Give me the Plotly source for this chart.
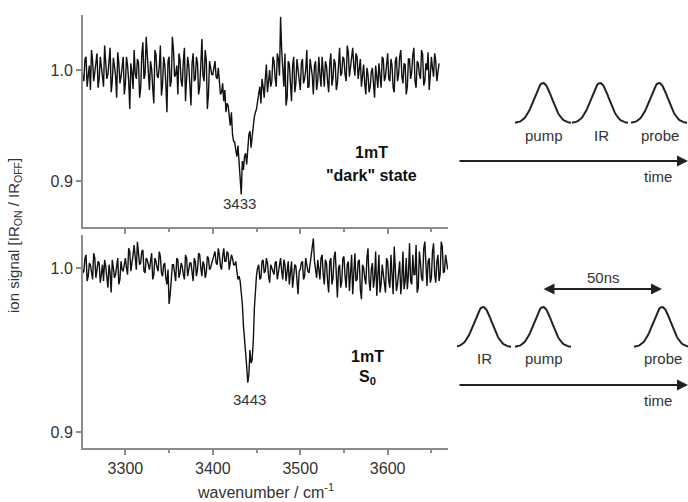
import numpy as np
import plotly.graph_objects as go

# ---------------- data ----------------
# samples at 3250, 3252.5, ... (main) and 3251.25, 3253.75, ... (mid)
wn_top = np.arange(3250.0, 3660.0, 2.5)          # 164 samples
sig_top = [
    1.005, 0.990, 1.012, 0.995, 0.982, 1.008, 0.998, 1.015, 0.992, 1.003,
    0.985, 1.010, 0.996, 1.020, 0.990, 1.002, 0.975, 1.006, 0.994, 1.012,
    0.988, 1.004, 0.965, 0.998, 1.018, 0.992, 1.007, 0.984, 1.025, 0.996,
    1.010, 0.982, 1.001, 0.970, 1.014, 0.993, 1.022, 0.987, 1.005, 0.962,
    1.012, 0.990, 1.018, 0.996, 0.978, 1.009, 0.985, 1.020, 0.995, 1.004,
    0.968, 1.015, 0.992, 1.006, 0.985, 1.028, 0.990, 1.010, 0.978, 1.002,
    0.996, 1.008, 0.992, 0.986, 0.980, 0.972, 0.962, 0.968, 0.950, 0.942,
    0.935, 0.922, 0.915, 0.888, 0.910, 0.925, 0.935, 0.945, 0.940, 0.958,
    0.965, 0.978, 0.970, 0.985, 0.992, 0.980, 1.000, 0.990, 1.008, 0.985,
    1.010, 1.048, 0.995, 1.015, 0.975, 1.005, 0.972, 1.012, 0.988, 1.000,
    0.982, 1.010, 0.992, 1.018, 0.985, 1.002, 0.978, 1.008, 0.990, 0.996,
    1.012, 0.985, 1.004, 0.980, 1.015, 0.993, 1.006, 0.988, 1.020, 0.997,
    1.010, 0.990, 1.016, 1.002, 1.020, 0.995, 1.012, 1.000, 0.985, 1.005,
    0.978, 0.996, 0.985, 1.002, 0.975, 0.992, 1.006, 0.984, 1.010, 0.994,
    1.015, 0.990, 1.004, 0.980, 1.012, 0.996, 1.018, 0.988, 1.005, 0.985,
    1.010, 0.998, 1.020, 0.984, 1.006, 0.992, 1.014, 0.990, 1.000, 0.982,
    1.012, 0.994, 1.008, 0.998,
]
sig_top_mid = [
    0.993, 1.010, 0.985, 1.004, 1.018, 0.990, 1.006, 0.984, 1.012, 0.996,
    1.022, 0.992, 1.008, 0.980, 1.011, 0.995, 1.016, 0.988, 1.003, 0.978,
    1.012, 0.990, 1.006, 0.983, 0.997, 1.010, 0.975, 1.014, 0.992, 1.030,
    0.990, 1.008, 0.984, 1.018, 0.995, 1.003, 0.977, 1.012, 0.988, 1.008,
    0.985, 1.030, 0.994, 1.004, 1.015, 0.990, 1.008, 0.972, 1.012, 0.983,
    1.006, 0.990, 1.012, 0.978, 1.004, 0.995, 1.018, 0.965, 1.008, 0.996,
    1.004, 0.994, 1.002, 0.978, 0.988, 0.982, 0.970, 0.955, 0.962, 0.936,
    0.928, 0.932, 0.905, 0.918, 0.922, 0.915, 0.942, 0.930, 0.952, 0.962,
    0.972, 0.985, 0.992, 0.975, 1.005, 0.994, 0.985, 1.012, 0.993, 1.015,
    0.995, 1.018, 0.985, 0.968, 1.008, 0.990, 1.004, 0.980, 1.010, 0.993,
    1.006, 0.988, 1.000, 0.984, 1.010, 0.995, 1.004, 0.982, 1.012, 0.985,
    0.998, 1.008, 0.990, 1.006, 0.986, 1.010, 0.982, 1.004, 0.995, 1.012,
    0.996, 1.022, 0.994, 1.008, 1.004, 1.015, 0.992, 1.010, 0.998, 0.988,
    1.002, 0.980, 0.998, 0.988, 1.004, 0.984, 0.995, 1.012, 0.990, 1.005,
    0.992, 1.010, 0.984, 1.008, 0.990, 1.012, 0.994, 1.006, 0.978, 1.010,
    0.992, 1.014, 0.990, 1.008, 0.996, 1.018, 0.986, 1.006, 1.016, 0.995,
    1.002, 1.015, 0.990, 1.006,
]

wn_bot = np.arange(3250.0, 3670.0, 2.5)          # 168 samples
sig_bot = [
    1.004, 0.998, 1.008, 0.995, 1.002, 0.993, 1.006, 0.999, 1.003, 0.996,
    0.992, 1.001, 0.988, 0.997, 1.005, 0.994, 1.000, 0.990, 1.004, 0.998,
    1.006, 0.996, 1.010, 1.002, 1.014, 0.999, 1.008, 1.003, 1.011, 0.997,
    1.005, 0.999, 1.009, 0.996, 1.004, 0.998, 1.007, 0.995, 1.003, 0.990,
    0.978, 0.996, 1.002, 0.992, 1.005, 0.997, 1.001, 0.993, 1.006, 0.998,
    1.003, 0.992, 1.004, 0.999, 1.008, 0.995, 1.002, 0.997, 1.006, 1.000,
    1.005, 1.010, 1.002, 1.008, 0.999, 1.012, 1.004, 1.009, 1.003, 1.006,
    1.002, 0.998, 0.995, 0.985, 0.965, 0.948, 0.930, 0.950, 0.944, 0.975,
    0.996, 1.002, 0.994, 1.005, 0.998, 1.003, 0.991, 1.000, 0.996, 1.004,
    0.997, 1.006, 0.993, 1.002, 0.999, 0.990, 1.004, 0.996, 1.001, 0.984,
    0.999, 1.004, 0.995, 1.002, 0.997, 1.006, 1.018, 0.998, 1.005, 0.993,
    1.008, 0.990, 1.003, 0.985, 1.006, 0.994, 1.010, 0.982, 1.002, 0.992,
    1.007, 0.988, 1.004, 0.996, 0.984, 1.009, 0.993, 1.005, 0.981, 1.000,
    0.990, 1.012, 0.986, 1.003, 0.994, 0.983, 1.008, 0.990, 0.997, 0.985,
    1.004, 0.988, 0.995, 1.013, 0.986, 0.998, 0.984, 1.010, 0.992, 0.987,
    1.015, 0.990, 0.996, 1.014, 0.988, 1.003, 0.992, 1.016, 0.989, 1.006,
    0.994, 1.015, 0.991, 1.008, 0.996, 1.013, 0.998, 1.004,
]
sig_bot_mid = [
    0.997, 1.006, 0.992, 1.003, 0.998, 1.009, 0.994, 1.004, 0.991, 1.002,
    1.005, 0.994, 1.002, 0.985, 1.000, 0.996, 1.006, 0.993, 0.999, 1.004,
    1.000, 1.012, 0.998, 1.008, 1.004, 1.016, 1.002, 1.010, 0.998, 1.006,
    1.001, 1.004, 0.993, 1.006, 1.000, 1.010, 0.997, 1.002, 0.994, 0.999,
    0.984, 1.002, 0.995, 1.006, 0.994, 1.003, 0.996, 1.008, 0.995, 1.003,
    0.997, 1.006, 0.995, 1.009, 1.000, 1.004, 0.994, 1.007, 0.999, 1.003,
    1.008, 1.003, 1.012, 1.001, 1.007, 1.004, 1.010, 0.999, 1.008, 1.002,
    1.004, 0.993, 0.992, 0.978, 0.958, 0.940, 0.935, 0.942, 0.955, 0.988,
    1.000, 0.993, 1.004, 0.997, 1.006, 0.995, 1.002, 0.998, 1.003, 0.993,
    1.002, 0.998, 1.005, 0.992, 1.004, 0.996, 0.988, 1.002, 0.994, 0.998,
    1.003, 0.993, 1.006, 0.998, 1.002, 1.010, 1.004, 0.994, 0.999, 1.006,
    0.996, 1.005, 0.992, 1.004, 0.990, 1.007, 0.996, 1.000, 0.988, 1.006,
    0.995, 1.002, 0.986, 1.008, 0.997, 0.992, 1.004, 0.987, 1.002, 0.994,
    1.006, 0.992, 0.999, 0.988, 1.010, 0.995, 0.985, 1.002, 0.990, 1.006,
    0.992, 1.008, 0.984, 0.998, 0.990, 1.004, 0.993, 0.987, 1.006, 0.996,
    0.992, 1.008, 0.996, 0.985, 1.010, 0.994, 1.012, 0.996, 1.004, 0.991,
    1.010, 0.996, 1.004, 0.992, 1.016, 0.997, 1.008, 0.999,
]

x_ticks = [3300, 3400, 3500, 3600]
y_ticks = [0.9, 1.0]
y_ticktext = ["0.9", "1.0"]

peak_top = 3433
peak_bot = 3443

# pulse schematic (positions in the schematic's own pixel-like frame)
top_pulses = ["pump", "IR", "probe"]
top_pulse_pos = [543, 600, 659]
bot_pulses = ["IR", "pump", "probe"]
bot_pulse_pos = [483, 543, 662]


def interleave(x, a, b, step):
    xs = np.empty(2 * len(x))
    ys = np.empty(2 * len(x))
    xs[0::2] = x
    xs[1::2] = np.asarray(x) + step / 2
    ys[0::2] = a
    ys[1::2] = b
    return xs, ys


FONT = "Liberation Sans, Arial, sans-serif"
AX = "#8c8c8c"
TXT = "#333333"

xt, yt = interleave(wn_top, sig_top, sig_top_mid, 2.5)
xb, yb = interleave(wn_bot, sig_bot, sig_bot_mid, 2.5)

fig = go.Figure()
fig.add_trace(go.Scatter(x=xt, y=yt, xaxis="x", yaxis="y", mode="lines",
                         line=dict(color="#111111", width=1.4), showlegend=False))
fig.add_trace(go.Scatter(x=xb, y=yb, xaxis="x2", yaxis="y2", mode="lines",
                         line=dict(color="#111111", width=1.4), showlegend=False))

# schematic pulses
t = np.linspace(-28, 28, 61)
g = np.exp(-t ** 2 / (2 * 9.0 ** 2))
for base, peak, names, pos in [(123, 83, top_pulses, top_pulse_pos),
                               (347, 307, bot_pulses, bot_pulse_pos)]:
    for c in pos:
        fig.add_trace(go.Scatter(x=c + t, y=base - (base - peak) * g, xaxis="x3", yaxis="y3",
                                 mode="lines", line=dict(color="#222222", width=2),
                                 showlegend=False, hoverinfo="skip"))

xr = [3251.5, 3669]
common_x = dict(range=xr, showline=True, linecolor=AX, linewidth=2, ticks="outside",
                ticklen=5, tickwidth=1.5, tickcolor=AX, tickvals=x_ticks, showgrid=False,
                zeroline=False, tickfont=dict(family=FONT, size=16, color=TXT),
                minor=dict(ticks="outside", ticklen=3, tickwidth=1.5, tickcolor=AX,
                           tick0=3250, dtick=50, showgrid=False))
common_y = dict(showline=True, linecolor=AX, linewidth=2, ticks="outside", ticklen=5,
                tickwidth=1.5, tickcolor=AX, tickvals=y_ticks, ticktext=y_ticktext,
                showgrid=False, zeroline=False, tickfont=dict(family=FONT, size=16, color=TXT))

fig.update_layout(
    width=688, height=502,
    margin=dict(l=83, r=0, t=15, b=54),
    paper_bgcolor="white", plot_bgcolor="white",
    xaxis=dict(domain=[0, 0.6033], anchor="y", showticklabels=False, **common_x),
    yaxis=dict(domain=[0.5104, 1], anchor="x", range=[0.8586, 1.0496], **common_y),
    xaxis2=dict(domain=[0, 0.6033], anchor="y2", showticklabels=True, **common_x),
    yaxis2=dict(domain=[0, 0.4919], anchor="x2", range=[0.8902, 1.0201], **common_y),
    xaxis3=dict(domain=[0.6182, 1], anchor="y3", range=[457, 688], visible=False),
    yaxis3=dict(domain=[0, 1], anchor="x3", range=[448, 15], visible=False),
)

ann = []


def txt(text, x, y, xref, yref, size=16, bold=False, **kw):
    ann.append(dict(text=("<b>%s</b>" % text) if bold else text, x=x, y=y, xref=xref, yref=yref,
                    showarrow=False,
                    font=dict(family=FONT, size=size, color="#111111" if bold else TXT),
                    xanchor="center", yanchor="middle", **kw))


# axis titles
txt("wavenumber / cm<sup>-1</sup>", 0.301, -0.0993, "paper", "paper", size=16)
txt("ion signal [IR<sub>ON</sub> / IR<sub>OFF</sub>]", -0.1124, 0.492, "paper", "paper",
    size=15, textangle=-90)

# peak labels
txt(str(peak_top), peak_top - 3, 0.880, "x", "y", size=15)
txt(str(peak_bot), peak_bot - 1, 0.9195, "x2", "y2", size=15)

# state labels
txt("1mT", 3582, 0.926, "x", "y", bold=True)
txt('"dark" state', 3582, 0.905, "x", "y", bold=True)
txt("1mT", 3577, 0.9457, "x2", "y2", bold=True)
txt("S<sub>0</sub>", 3577, 0.9335, "x2", "y2", bold=True)

# schematic labels
for names, pos, ly in [(top_pulses, top_pulse_pos, 135), (bot_pulses, bot_pulse_pos, 358)]:
    for n, c in zip(names, pos):
        txt(n, c + 1, ly, "x3", "y3", size=15)
txt("time", 658, 176, "x3", "y3", size=15)
txt("time", 658, 400, "x3", "y3", size=15)
txt("50ns", 603, 277, "x3", "y3", size=15)

# arrows
for yy in (161, 385):
    ann.append(dict(x=688, y=yy, ax=458, ay=yy, xref="x3", yref="y3", axref="x3", ayref="y3",
                    text="", showarrow=True, arrowhead=2, arrowsize=1.1, arrowwidth=2,
                    arrowcolor="#222222"))
ann.append(dict(x=662, y=289, ax=542, ay=289, xref="x3", yref="y3", axref="x3", ayref="y3",
                text="", showarrow=True, arrowhead=2, startarrowhead=2, arrowside="end+start",
                arrowsize=1.1, startarrowsize=1.1, arrowwidth=2, arrowcolor="#222222"))

fig.update_layout(annotations=ann)
fig.write_html("out.html", config={"displayModeBar": False},
               post_script="document.body.style.margin='0';")
